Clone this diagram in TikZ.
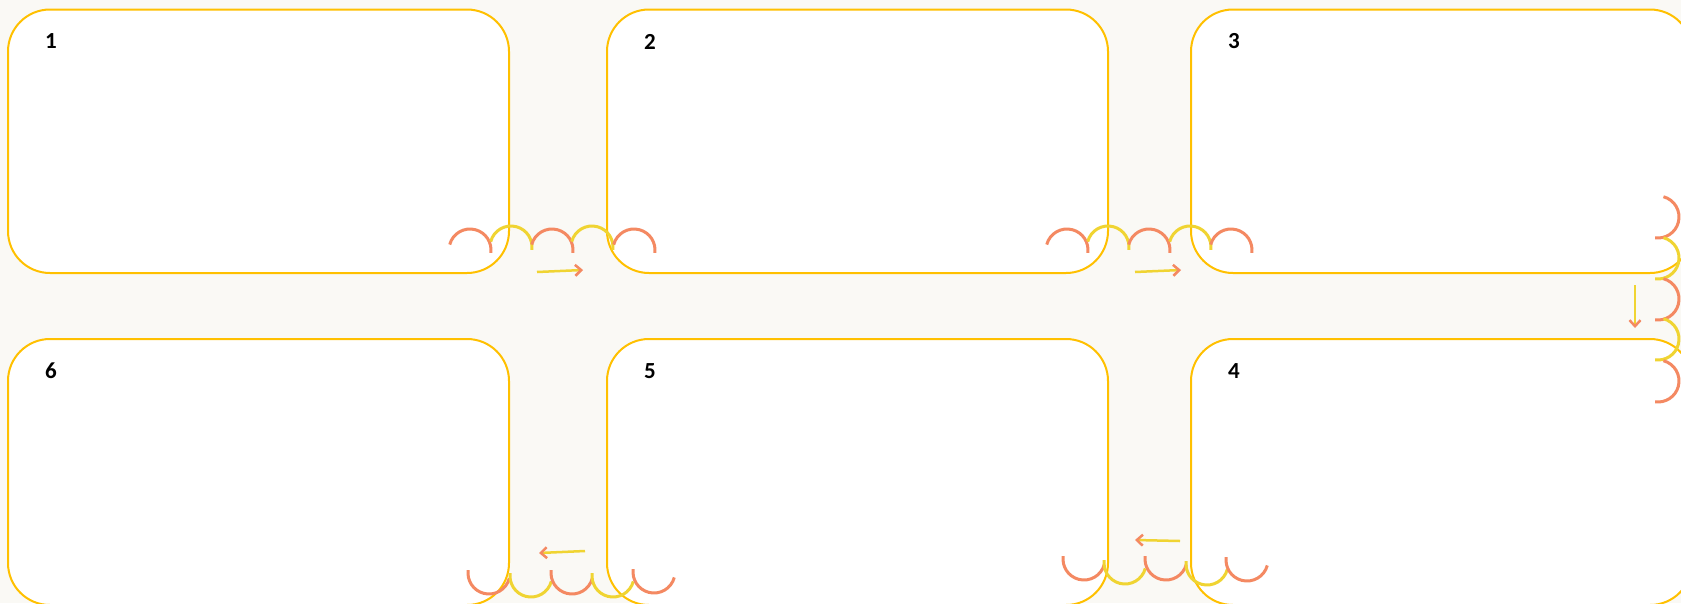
\documentclass[tikz,border=0pt]{standalone}
\usepackage{fontspec}
\setmainfont{Carlito}
\usepackage{tikz}
\usetikzlibrary{calc}
\usetikzlibrary{positioning}
\usetikzlibrary{arrows.meta}

\definecolor{gold}{RGB}{255,192,0}
\definecolor{salmon}{RGB}{244,137,98}
\definecolor{lemon}{RGB}{240,212,50}
\definecolor{paper}{RGB}{250,249,245}

\begin{document}
\begin{tikzpicture}[x=1pt,y=1pt,
panel/.style={draw=gold,fill=white,line width=2pt,rounded corners=42pt,minimum width=501pt,minimum height=263.5pt,inner sep=0pt,outer sep=0pt},
lowpanel/.style={panel,minimum height=266pt},
num/.style={font=\bfseries\fontsize{23}{26}\selectfont},
flow/.style={draw=lemon,line width=2.5pt,-{Straight Barb[color=salmon,length=6pt,width=11pt,line width=2.5pt]}},
wave/.style={line width=3pt}]

\fill[paper] (0,0) rectangle (1681,-603);
\useasboundingbox (0,0) rectangle (1681,-603);
\clip (0,0) rectangle (1681,-603);

\node[panel] (p1) at (258.5,-141.25) {};
\node[panel,right=98pt of p1] (p2) {};
\node[panel,right=83pt of p2] (p3) {};
\node[lowpanel,below=66pt of p3] (p4) {};
\node[lowpanel,left=83pt of p4] (p5) {};
\node[lowpanel,left=98pt of p5] (p6) {};

\foreach \i in {1,...,6}
  \node[num] (n\i) at ($(p\i.north west)+(43,-32)$) {\i};

% scallops
\foreach \cx/\cy/\col in {470/250/salmon,511/247/lemon,552/250/salmon,592/247/lemon,634/250/salmon,1067/250/salmon,1108/247/lemon,1149/250/salmon,1190/247/lemon,1231/250/salmon}
  \draw[wave,\col] (\cx,-\cy) ++(165:21) arc[start angle=165,end angle=-8,radius=21];
\foreach \cy/\col in {217/salmon,258/lemon,299/salmon,339/lemon,381/salmon}
  \draw[wave,\col] (1658,-\cy) ++(75:21) arc[start angle=75,end angle=-98,radius=21];
\foreach \cx/\cy/\col in {489/573/salmon,531/576/lemon,572/573/salmon,613/576/lemon,654/572/salmon,1084/559/salmon,1125/563/lemon,1166/559/salmon,1207/564/lemon,1247/560/salmon}
  \draw[wave,\col] (\cx,-\cy) ++(-15:21) arc[start angle=-15,end angle=-188,radius=21];

\coordinate (a12) at (537,-272);
\coordinate (b12) at (583,-270);
\coordinate (a23) at (1135,-272);
\coordinate (b23) at (1181,-270);
\coordinate (a34) at (1635,-285);
\coordinate (b34) at (1635,-328);
\coordinate (a45) at (1180,-541);
\coordinate (b45) at (1135,-540);
\coordinate (a56) at (585,-551);
\coordinate (b56) at (539,-553);

\draw[flow] (a12) -- (b12);
\draw[flow] (a23) -- (b23);
\draw[flow] (a34) -- (b34);
\draw[flow] (a45) -- (b45);
\draw[flow] (a56) -- (b56);
\end{tikzpicture}
\end{document}
